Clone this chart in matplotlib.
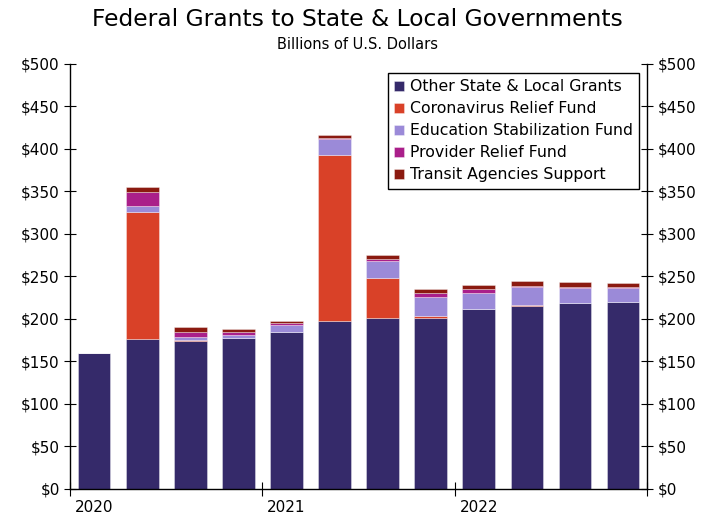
import matplotlib.pyplot as plt
import numpy as np

quarters = ['2020Q1', '2020Q2', '2020Q3', '2020Q4',
            '2021Q1', '2021Q2', '2021Q3', '2021Q4',
            '2022Q1', '2022Q2', '2022Q3', '2022Q4']
years = ['2020', '2021', '2022']

other = [160, 176, 174, 177, 185, 198, 201, 201, 212, 215, 219, 220]
coronavirus = [0, 150, 1, 0, 0, 195, 47, 2, 0, 1, 0, 0]
education = [0, 7, 4, 4, 8, 18, 20, 23, 19, 21, 17, 16]
provider = [0, 16, 5, 4, 2, 2, 3, 4, 4, 2, 2, 1]
transit = [0, 6, 6, 3, 3, 3, 4, 5, 5, 5, 5, 5]

series = [
    ('Other State & Local Grants', other, '#352a6a'),
    ('Coronavirus Relief Fund', coronavirus, '#d94128'),
    ('Education Stabilization Fund', education, '#9b8ad8'),
    ('Provider Relief Fund', provider, '#aa1f8a'),
    ('Transit Agencies Support', transit, '#8b1a10'),
]

fig = plt.figure(figsize=(7.15, 5.19), dpi=100)
ax = fig.add_axes([0.098, 0.058, 0.807, 0.819])

x = np.arange(len(quarters))
bottom = np.zeros(len(quarters))
for name, vals, color in series:
    vals = np.array(vals, dtype=float)
    ax.bar(x, vals, width=0.68, bottom=bottom, color=color, label=name,
           edgecolor='#ffffff80', linewidth=0.5)
    bottom += vals

ax.set_xlim(-0.5, 11.5)
ax.set_ylim(0, 500)

yt = np.arange(0, 501, 50)
ax.set_yticks(yt)
ax.set_yticklabels([f'${v}' for v in yt])
ax.tick_params(axis='y', direction='inout', length=8, labelsize=11,
               right=True, labelright=True)

# year boundaries as ticks, labels under the first quarter of each year
ax.set_xticks([-0.5, 3.5, 7.5, 11.5])
ax.set_xticklabels([])
ax.set_xticks([0, 4, 8], minor=True)
ax.set_xticklabels(years, minor=True)
ax.tick_params(axis='x', which='major', direction='inout', length=10)
ax.tick_params(axis='x', which='minor', length=0, labelsize=11, pad=8)

ax.spines['top'].set_visible(False)
for s in ['left', 'right', 'bottom']:
    ax.spines[s].set_linewidth(1.0)

leg = ax.legend(loc='upper right', bbox_to_anchor=(1.0, 0.997), fontsize=11.3,
                handlelength=0.6, handleheight=0.6, handletextpad=0.4,
                labelspacing=0.45, borderpad=0.4, fancybox=False,
                edgecolor='black', framealpha=1)
leg.get_frame().set_linewidth(1.0)

fig.text(0.5, 0.985, 'Federal Grants to State & Local Governments',
         ha='center', va='top', fontsize=16.8)
fig.text(0.5, 0.928, 'Billions of U.S. Dollars', ha='center', va='top',
         fontsize=10.5)

plt.savefig('out.png', dpi=100)
